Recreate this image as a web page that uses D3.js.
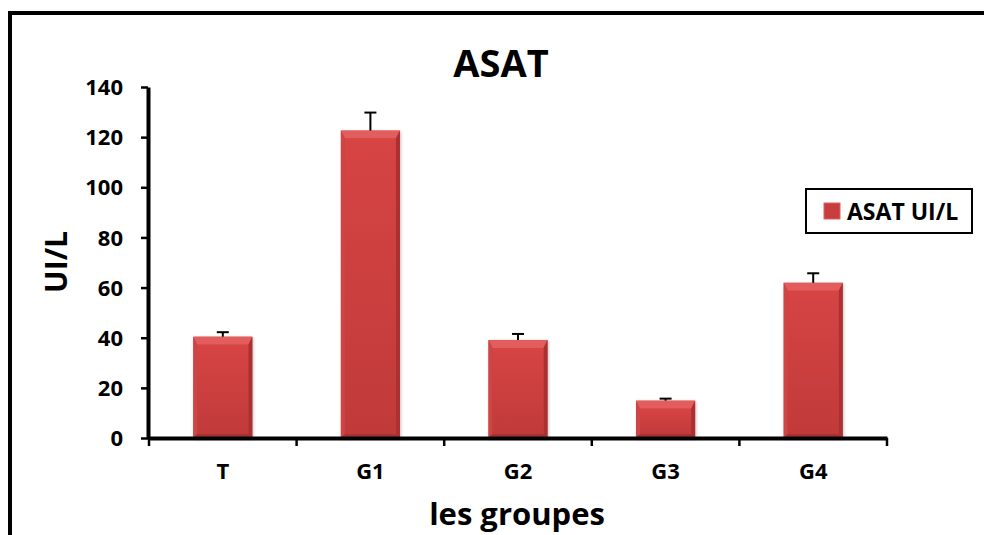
<!DOCTYPE html>
<html>
<head>
<meta charset="utf-8">
<script src="https://cdn.jsdelivr.net/npm/d3@7"></script>
<style>
  html, body { margin: 0; padding: 0; background: #fff; }
  svg text { font-family: "Open Sans", "Liberation Sans", sans-serif; font-weight: bold; fill: #000; }
</style>
</head>
<body>
<svg id="chart" width="984" height="535"></svg>
<script>
// chart data
const groups = ["T", "G1", "G2", "G3", "G4"];
const asatValues = [40.4, 122.6, 39.1, 14.9, 61.9];
const asatErrors = [1.8, 7.2, 2.4, 0.8, 3.8];
const yTicks = [0, 20, 40, 60, 80, 100, 120, 140];
const chartTitle = "ASAT";
const yTitle = "UI/L";
const xTitle = "les groupes";
const legendLabel = "ASAT UI/L";

const svg = d3.select("#chart");

// outer frame (right and bottom edges run off the picture)
svg.append("rect")
    .attr("x", 10).attr("y", 13)
    .attr("width", 990).attr("height", 540)
    .attr("fill", "none").attr("stroke", "#000").attr("stroke-width", 4);

const x = d3.scaleBand().domain(groups).range([149, 887]).padding(0);
const y = d3.scaleLinear().domain([0, 140]).range([438, 87]);

const barW = x.bandwidth() * 0.4;

// soft shadow for the bars
const defs = svg.append("defs");
const shadow = defs.append("filter").attr("id", "shadow")
    .attr("x", "-20%").attr("y", "-10%").attr("width", "140%").attr("height", "120%");
shadow.append("feDropShadow")
    .attr("dx", 1).attr("dy", 1).attr("stdDeviation", 1.5)
    .attr("flood-color", "#000").attr("flood-opacity", 0.25);

const face = defs.append("linearGradient").attr("id", "face")
    .attr("x1", 0).attr("y1", 0).attr("x2", 0).attr("y2", 1);
face.append("stop").attr("offset", "0%").attr("stop-color", "#d64444");
face.append("stop").attr("offset", "100%").attr("stop-color", "#c13a3a");

const bars = svg.append("g").selectAll("g.bar")
    .data(groups.map((g, i) => ({g: g, v: asatValues[i], e: asatErrors[i]})))
    .join("g").attr("class", "bar");

bars.each(function(d) {
    const g = d3.select(this);
    const x0 = x(d.g) + (x.bandwidth() - barW) / 2;
    const x1 = x0 + barW;
    const y0 = y(d.v);
    const y1 = y(0);
    const bt = Math.min(8, (y1 - y0) / 3), bs = 4, bb = 4;

    g.append("rect")
        .attr("x", x0).attr("y", y0).attr("width", barW).attr("height", y1 - y0)
        .attr("fill", "#c83d3d").attr("filter", "url(#shadow)");
    // bevel: top, left, right, bottom
    const poly = (pts, c) => g.append("polygon")
        .attr("points", pts.map(p => p.join(",")).join(" ")).attr("fill", c);
    poly([[x0, y0], [x1, y0], [x1 - bs, y0 + bt], [x0 + bs, y0 + bt]], "#e35d5d");
    poly([[x0, y0], [x0 + bs, y0 + bt], [x0 + bs, y1 - bb], [x0, y1]], "#cf4444");
    poly([[x1, y0], [x1, y1], [x1 - bs, y1 - bb], [x1 - bs, y0 + bt]], "#a93131");
    poly([[x0, y1], [x0 + bs, y1 - bb], [x1 - bs, y1 - bb], [x1, y1]], "#a83232");
    g.append("rect")
        .attr("x", x0 + bs).attr("y", y0 + bt)
        .attr("width", barW - 2 * bs).attr("height", Math.max(0, y1 - y0 - bt - bb))
        .attr("fill", "url(#face)");

    // upper error bar
    const cx = x(d.g) + x.bandwidth() / 2;
    g.append("line")
        .attr("x1", cx).attr("x2", cx).attr("y1", y0).attr("y2", y(d.v + d.e))
        .attr("stroke", "#000").attr("stroke-width", 2);
    g.append("line")
        .attr("x1", cx - 6).attr("x2", cx + 6).attr("y1", y(d.v + d.e)).attr("y2", y(d.v + d.e))
        .attr("stroke", "#000").attr("stroke-width", 2);
});

// y axis
const yAxis = svg.append("g")
    .attr("transform", "translate(148,0)")
    .call(d3.axisLeft(y).tickValues(yTicks).tickSize(7).tickSizeOuter(0).tickPadding(18));
yAxis.select(".domain").attr("stroke", "#000").attr("stroke-width", 4);
yAxis.selectAll(".tick line").attr("stroke", "#000").attr("stroke-width", 2.5);
yAxis.selectAll(".tick text")
    .attr("font-size", 22).attr("font-family", null).attr("dy", "0.35em");

// x axis
const xAxis = svg.append("g")
    .attr("transform", "translate(0,438)")
    .call(d3.axisBottom(x).tickSize(0).tickPadding(25));
xAxis.select(".domain").attr("stroke", "#000").attr("stroke-width", 4);
xAxis.selectAll(".tick text").attr("font-size", 22).attr("font-family", null);
// tick marks on the category boundaries
xAxis.selectAll("line.sep")
    .data(groups.map(g => x(g)).concat([x.range()[1]]))
    .join("line").attr("class", "sep")
    .attr("x1", d => d).attr("x2", d => d).attr("y1", 0).attr("y2", 8)
    .attr("stroke", "#000").attr("stroke-width", 2.5);

// titles
svg.append("text")
    .attr("x", 501).attr("y", 77)
    .attr("text-anchor", "middle").attr("font-size", 38)
    .text(chartTitle);

svg.append("text")
    .attr("transform", "translate(67,262) rotate(-90)")
    .attr("text-anchor", "middle").attr("font-size", 30)
    .text(yTitle);

svg.append("text")
    .attr("x", 517).attr("y", 525)
    .attr("text-anchor", "middle").attr("font-size", 31)
    .text(xTitle);

// legend
const legend = svg.append("g");
legend.append("rect")
    .attr("x", 806).attr("y", 189).attr("width", 166).attr("height", 44)
    .attr("fill", "#fff").attr("stroke", "#000").attr("stroke-width", 2);
legend.append("rect")
    .attr("x", 824).attr("y", 203).attr("width", 16).attr("height", 16)
    .attr("fill", "#c83d3d").attr("stroke", "#e06060").attr("stroke-width", 1);
legend.append("text")
    .attr("x", 847).attr("y", 220).attr("font-size", 23)
    .text(legendLabel);
</script>
</body>
</html>
